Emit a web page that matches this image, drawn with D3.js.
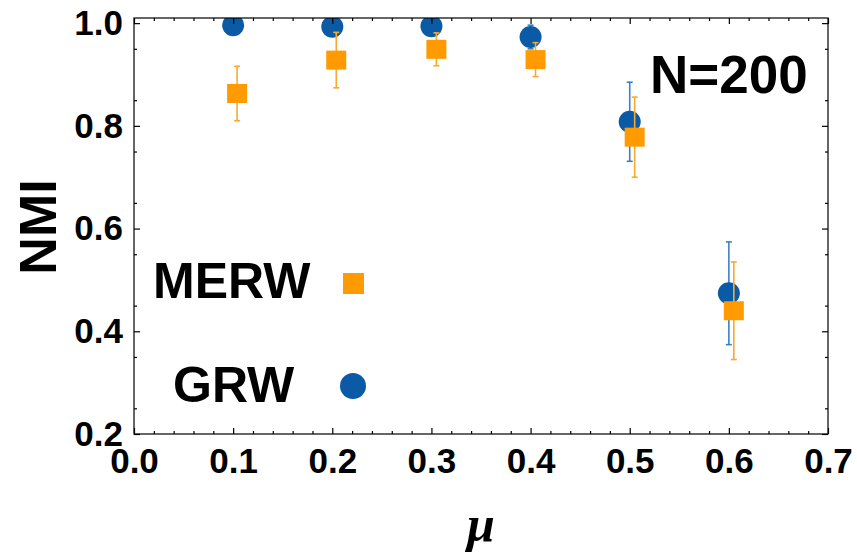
<!DOCTYPE html>
<html>
<head>
<meta charset="utf-8">
<script src="https://cdn.jsdelivr.net/npm/d3@7"></script>
<style>
  body { margin: 0; background: #fff; }
  text { font-family: "Liberation Sans", Arial, sans-serif; font-weight: bold; }
</style>
</head>
<body>
<div id="chart"></div>
<script>
// values
const mu = [0.1, 0.2, 0.3, 0.4, 0.5, 0.6];
const grwNMI = [0.996, 0.993, 0.994, 0.973, 0.808, 0.474];
const grwErr = [0.004, 0.004, 0.004, 0.023, 0.077, 0.100];
const merwMu = [0.104, 0.204, 0.305, 0.405, 0.505, 0.605];
const merwNMI = [0.863, 0.928, 0.949, 0.929, 0.778, 0.440];
const merwErr = [0.053, 0.054, 0.032, 0.033, 0.078, 0.095];
const xTicks = [0, 0.1, 0.2, 0.3, 0.4, 0.5, 0.6, 0.7];
const yTicks = [0.2, 0.4, 0.6, 0.8, 1.0];

const width = 857;
const height = 552;
const blue = '#0a5aa6';
const blueBar = '#3b80c4';
const orange = '#ff9a00';
const orangeBar = '#f9a92e';

const svg = d3.select('#chart')
  .append('svg')
  .attr('width', width)
  .attr('height', height);

const x = d3.scaleLinear().domain([0, 0.7]).range([134, 828]);
const y = d3.scaleLinear().domain([0.2, 1.01]).range([434, 18]);

const grw = mu.map((m, i) => ({ x: m, y: grwNMI[i], e: grwErr[i] }));
const merw = merwMu.map((m, i) => ({ x: m, y: merwNMI[i], e: merwErr[i] }));

svg.append('clipPath').attr('id', 'clip')
  .append('rect')
  .attr('x', x(0)).attr('y', y(1.01))
  .attr('width', x(0.7) - x(0)).attr('height', y(0.2) - y(1.01));

const plot = svg.append('g').attr('clip-path', 'url(#clip)');

function errorBars(g, pts, color) {
  const bars = g.append('g').selectAll('g').data(pts).join('g')
    .attr('stroke', color).attr('stroke-width', 1.6);
  bars.append('line')
    .attr('x1', d => x(d.x)).attr('x2', d => x(d.x))
    .attr('y1', d => y(d.y - d.e)).attr('y2', d => y(d.y + d.e));
  bars.append('line')
    .attr('x1', d => x(d.x) - 3).attr('x2', d => x(d.x) + 3)
    .attr('y1', d => y(d.y + d.e)).attr('y2', d => y(d.y + d.e));
  bars.append('line')
    .attr('x1', d => x(d.x) - 3).attr('x2', d => x(d.x) + 3)
    .attr('y1', d => y(d.y - d.e)).attr('y2', d => y(d.y - d.e));
}

// GRW
errorBars(plot, grw, blueBar);
plot.append('g').selectAll('circle').data(grw).join('circle')
  .attr('cx', d => x(d.x)).attr('cy', d => y(d.y))
  .attr('r', 11).attr('fill', blue);

// MERW
errorBars(plot, merw, orangeBar);
plot.append('g').selectAll('rect').data(merw).join('rect')
  .attr('x', d => x(d.x) - 10).attr('y', d => y(d.y) - 9.5)
  .attr('width', 20).attr('height', 19).attr('fill', orange);

// frame and inward ticks
const minorX = d3.range(0, 0.7001, 0.02).filter(v => Math.abs(v * 10 - Math.round(v * 10)) > 1e-6);
const minorY = d3.range(0.25, 1.0, 0.1);

function axisGroup(axis) {
  const g = svg.append('g').call(axis);
  g.select('.domain').remove();
  g.selectAll('line').attr('stroke', '#000').attr('stroke-width', 1.2);
  return g;
}

const bottomY = y(0.2), topY = y(1.01);
axisGroup(d3.axisBottom(x).tickValues(xTicks).tickSize(-6).tickPadding(14).tickFormat(d3.format('.1f')))
  .attr('transform', `translate(0,${bottomY})`)
  .selectAll('text').attr('font-size', 35).attr('fill', '#000').attr('dy', '0.71em');
axisGroup(d3.axisBottom(x).tickValues(minorX).tickSize(-3).tickFormat(''))
  .attr('transform', `translate(0,${bottomY})`);
axisGroup(d3.axisTop(x).tickValues(xTicks).tickSize(-6).tickFormat(''))
  .attr('transform', `translate(0,${topY})`);
axisGroup(d3.axisTop(x).tickValues(minorX).tickSize(-3).tickFormat(''))
  .attr('transform', `translate(0,${topY})`);

axisGroup(d3.axisLeft(y).tickValues(yTicks).tickSize(-6).tickPadding(11).tickFormat(d3.format('.1f')))
  .attr('transform', `translate(${x(0)},0)`)
  .selectAll('text').attr('font-size', 35).attr('fill', '#000');
axisGroup(d3.axisLeft(y).tickValues(minorY).tickSize(-3).tickFormat(''))
  .attr('transform', `translate(${x(0)},0)`);
axisGroup(d3.axisRight(y).tickValues(yTicks).tickSize(-6).tickFormat(''))
  .attr('transform', `translate(${x(0.7)},0)`);
axisGroup(d3.axisRight(y).tickValues(minorY).tickSize(-3).tickFormat(''))
  .attr('transform', `translate(${x(0.7)},0)`);

svg.append('rect')
  .attr('x', x(0)).attr('y', topY)
  .attr('width', x(0.7) - x(0)).attr('height', bottomY - topY)
  .attr('fill', 'none').attr('stroke', '#000').attr('stroke-width', 1.2);

// labels
svg.append('text').attr('x', 650).attr('y', 93).attr('font-size', 53).text('N=200');

svg.append('text').attr('x', 153).attr('y', 298).attr('font-size', 50).text('MERW');
svg.append('rect').attr('x', 343).attr('y', 273).attr('width', 21).attr('height', 21).attr('fill', orange);
svg.append('text').attr('x', 173).attr('y', 402).attr('font-size', 50).text('GRW');
svg.append('circle').attr('cx', 353).attr('cy', 386).attr('r', 13).attr('fill', blue);

svg.append('text')
  .attr('transform', 'translate(56,227) rotate(-90)')
  .attr('text-anchor', 'middle').attr('font-size', 52).text('NMI');

svg.append('text')
  .attr('x', 481).attr('y', 541).attr('text-anchor', 'middle')
  .style('font-family', '"Liberation Serif", serif').style('font-style', 'italic')
  .attr('font-size', 50).text('μ');
</script>
</body>
</html>
